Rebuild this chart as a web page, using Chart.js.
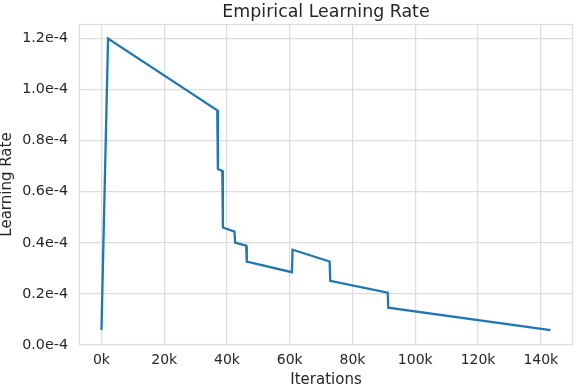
<!DOCTYPE html>
<html>
<head>
<meta charset="utf-8">
<script src="https://cdn.jsdelivr.net/npm/chart.js@4/dist/chart.umd.min.js"></script>
<style>
  html, body { margin: 0; padding: 0; background: #ffffff; }
  canvas { display: block; }
</style>
</head>
<body>
<canvas id="c" width="576" height="388" style="width:576px;height:388px"></canvas>
<script>
// ---- data ----
const iterations = [0, 2100, 36900, 37100, 38500, 38700, 42400, 42600, 46100, 46300, 60700, 60900, 72700, 72900, 91200, 91400, 143100];
const learningRate = [0.059e-4, 1.200e-4, 0.919e-4, 0.689e-4, 0.682e-4, 0.460e-4, 0.444e-4, 0.401e-4, 0.389e-4, 0.327e-4, 0.285e-4, 0.373e-4, 0.327e-4, 0.251e-4, 0.205e-4, 0.146e-4, 0.058e-4];
const xTickValues = [0, 20000, 40000, 60000, 80000, 100000, 120000, 140000];
const yTickValues = [0, 0.2e-4, 0.4e-4, 0.6e-4, 0.8e-4, 1.0e-4, 1.2e-4];
const chartTitle = 'Empirical Learning Rate';
const xLabel = 'Iterations';
const yLabel = 'Learning Rate';

const TEXT = '#262626';
const GRID = '#dddddd';
const FONT = 'DejaVu Sans';

const points = iterations.map((x, i) => ({ x: x, y: learningRate[i] }));

const frameAndTitle = {
  id: 'frameAndTitle',
  beforeDatasetsDraw(chart) {
    const { ctx, chartArea: a } = chart;
    ctx.save();
    ctx.strokeStyle = GRID;
    ctx.lineWidth = 1.25;
    ctx.strokeRect(Math.round(a.left) + 0.5, Math.round(a.top) + 0.5,
                   Math.round(a.right - a.left) - 1, Math.round(a.bottom - a.top) - 1);
    ctx.restore();
  },
  afterDraw(chart) {
    const { ctx, chartArea: a } = chart;
    ctx.save();
    ctx.fillStyle = TEXT;
    ctx.font = '17.4px "' + FONT + '"';
    ctx.textAlign = 'center';
    ctx.textBaseline = 'alphabetic';
    ctx.fillText(chartTitle, (a.left + a.right) / 2, 17);
    ctx.restore();
  }
};

new Chart(document.getElementById('c'), {
  type: 'line',
  data: {
    datasets: [{
      data: points,
      borderColor: '#1f77b4',
      borderWidth: 2.3,
      pointRadius: 0,
      fill: false,
      tension: 0
    }]
  },
  options: {
    responsive: false,
    devicePixelRatio: 1,
    animation: false,
    events: [],
    layout: { padding: { top: 24, right: 3, left: 0, bottom: 0 } },
    plugins: { legend: { display: false }, tooltip: { enabled: false }, title: { display: false } },
    scales: {
      x: {
        type: 'linear',
        min: -7155,
        max: 150255,
        afterBuildTicks: (ax) => { ax.ticks = xTickValues.map(v => ({ value: v })); },
        afterFit: (ax) => { ax.height = 43; },
        grid: { color: GRID, lineWidth: 1.25, drawTicks: false },
        border: { display: false },
        ticks: {
          padding: 7,
          color: TEXT,
          font: { family: FONT, size: 14 },
          maxRotation: 0,
          autoSkip: false,
          callback: (v) => (v / 1000) + 'k'
        },
        title: {
          display: true, text: xLabel, color: TEXT,
          font: { family: FONT, size: 15, lineHeight: 1 },
          padding: { top: 0, bottom: 0 }
        }
      },
      y: {
        type: 'linear',
        min: 0,
        max: 1.257e-4,
        afterBuildTicks: (ax) => { ax.ticks = yTickValues.map(v => ({ value: v })); },
        afterFit: (ax) => { ax.width = 79; },
        grid: { color: GRID, lineWidth: 1.25, drawTicks: false },
        border: { display: false },
        ticks: {
          padding: 11,
          color: TEXT,
          font: { family: FONT, size: 14.3 },
          autoSkip: false,
          callback: (v) => (v * 1e4).toFixed(1) + 'e-4'
        },
        title: {
          display: true, text: yLabel, color: TEXT,
          font: { family: FONT, size: 15, lineHeight: 1 },
          padding: { top: 0, bottom: 0 }
        }
      }
    }
  },
  plugins: [frameAndTitle]
});
</script>
</body>
</html>
